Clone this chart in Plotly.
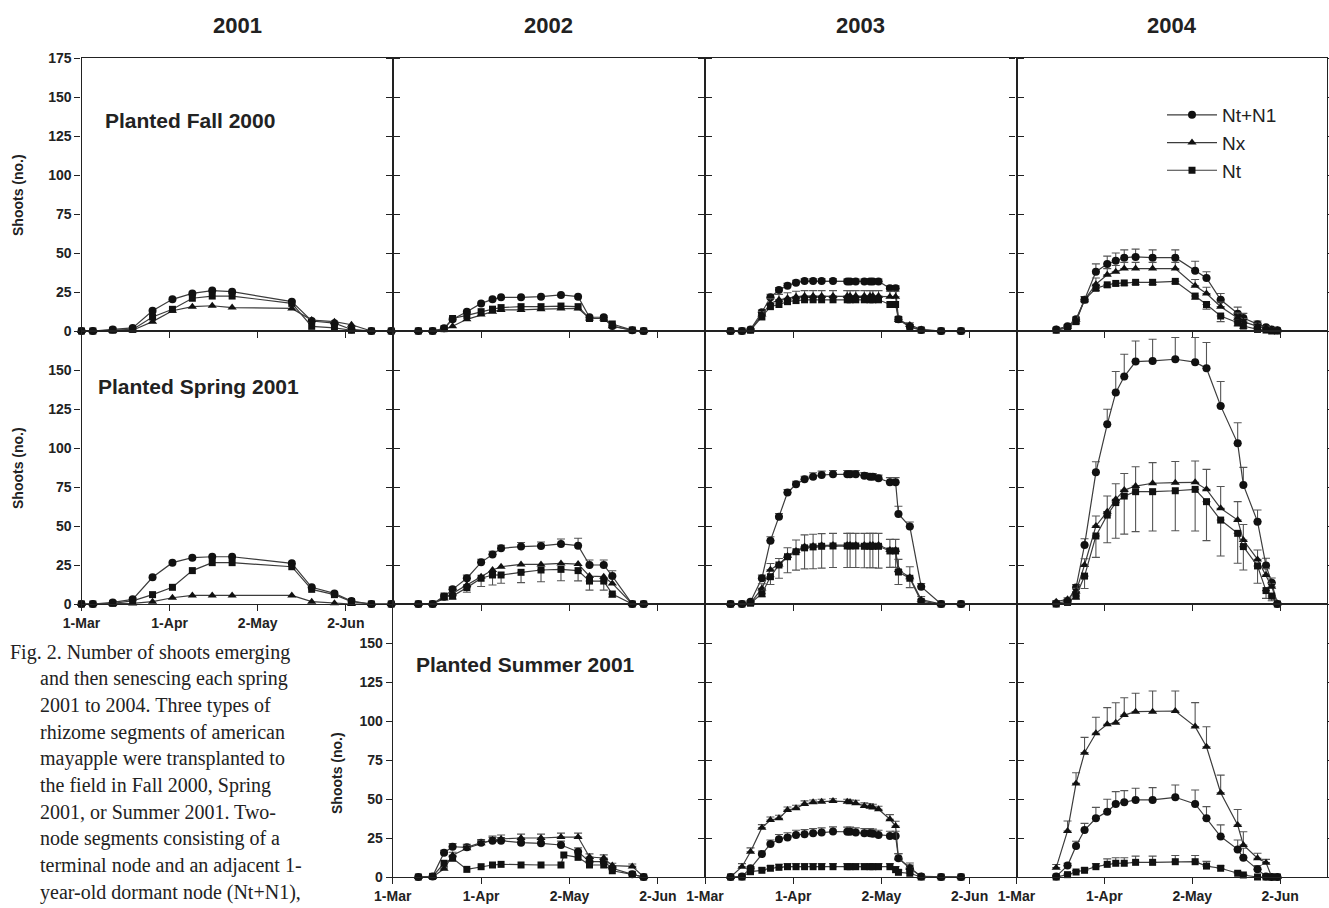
import plotly.graph_objects as go

W, H = 1329, 908

# ---------------- labels ----------------
YEARS = ["2001", "2002", "2003", "2004"]
PLANTINGS = ["Planted Fall 2000", "Planted Spring 2001", "Planted Summer 2001"]
SERIES = ["Nt+N1", "Nx", "Nt"]
X_TICK_DAYS = [0, 31, 62, 93]          # days after 1 March
X_TICK_LABELS = ["1-Mar", "1-Apr", "2-May", "2-Jun"]
Y_TICKS = [0, 25, 50, 75, 100, 125, 150, 175]
Y_TITLE = "Shoots (no.)"
CAPTION = [
    "Fig. 2. Number of shoots emerging",
    "and then senescing each spring",
    "2001 to 2004. Three types of",
    "rhizome segments of american",
    "mayapple were transplanted to",
    "the field in Fall 2000, Spring",
    "2001, or Summer 2001. Two-",
    "node segments consisting of a",
    "terminal node and an adjacent 1-",
    "year-old dormant node (Nt+N1),",
]

# ---------------- sampling dates (days after 1 March) ----------------
DAYS_2001 = [0, 4, 11, 18, 25, 32, 39, 46, 53, 74, 81, 89, 95, 102, 109]
DAYS_2002 = [9, 14, 18, 21, 26, 31, 35, 38, 45, 52, 59, 65, 69, 74, 77, 84, 88]
DAYS_2002_SUMMER_NT = [9, 14, 18, 21, 26, 31, 35, 38, 45, 52, 59, 60, 65, 69, 74, 77, 84, 88]
DAYS_2003 = [9, 13, 16, 20, 23, 26, 29, 32, 35, 38, 41, 45, 50, 51, 53, 56, 58, 59, 61, 65,
             67, 68, 72, 76, 83, 90]
DAYS_2004 = [14, 18, 21, 24, 28, 32, 35, 38, 42, 48, 56, 63, 67, 72, 78, 80, 85, 88, 90, 92]

# ---------------- Planted Fall 2000 ----------------
FALL_2001_NTN1 = [0, 0, 1, 2, 13, 20.3, 24.1, 25.9, 25.2, 18.8, 6.4, 5, 1, 0, 0]
FALL_2001_NX = [0, 0, 0, 0.5, 6, 13, 15.6, 16.2, 15, 14.5, 7, 6, 4, 0, 0]
FALL_2001_NT = [0, 0, 0.5, 1, 9, 13.9, 21, 22.4, 22.4, 17.7, 3, 2, 0.5, 0, 0]

FALL_2002_NTN1 = [0, 0, 1.7, 7.5, 12.4, 17.7, 20.3, 21.6, 21.6, 22, 23.1, 22, 8.8, 8.8, 3.2, 0.5, 0]
FALL_2002_NX = [0, 0, 1, 3, 7.5, 10.5, 12.4, 13.5, 13.5, 14, 14.5, 14.5, 8, 8, 3, 0.5, 0]
FALL_2002_NT = [0, 0, 1.5, 8, 10, 12.4, 14, 15, 15.6, 15.6, 16, 15.6, 8, 8, 4.5, 0.6, 0]

FALL_2003_NTN1 = [0, 0, 1, 12, 21.6, 26.3, 29, 31, 32, 32, 32, 32, 31.8, 31.8, 31.8, 31.8, 31.8,
                  31.8, 31.8, 27.4, 27.4, 7.5, 3, 0.6, 0, 0]
FALL_2003_NTN1_ERR = [0, 0, 0.5, 1.5, 2, 1.5, 1.5, 1.5, 1.5, 1.5, 1.5, 1.5, 1.5, 1.5, 1.5, 1.5, 1.5,
                      1.5, 1.5, 1.5, 1.5, 1.5, 1, 0.5, 0, 0]
FALL_2003_NX = [0, 0, 0.5, 10.5, 17.7, 20, 21, 22, 22.4, 22.4, 22.4, 22.4, 22.4, 22.4, 22.4, 22.4,
                22.4, 22.4, 22.4, 22, 22, 7, 3.8, 1, 0, 0]
FALL_2003_NX_ERR = [0, 0, 0.5, 2, 3, 3.5, 3.5, 3.5, 3.5, 3.5, 3.5, 3.5, 3.5, 3.5, 3.5, 3.5, 3.5,
                    3.5, 3.5, 3.5, 3.5, 2, 1.5, 0.5, 0, 0]
FALL_2003_NT = [0, 0, 0.5, 9, 15.6, 17, 18.8, 19.5, 20, 20, 20, 20, 20, 20, 20, 20, 20, 20, 20,
                17, 17, 7.5, 2.4, 0.6, 0, 0]

FALL_2004_NTN1 = [1, 3, 7.5, 20, 38, 43, 45, 47, 47.5, 47, 47, 38.7, 34, 20, 11, 8.3, 4.4, 2.4, 1, 0.5]
FALL_2004_NTN1_ERR = [0.5, 1, 1.5, 2, 5, 5, 5, 5, 5, 5, 5, 6, 4, 4, 4.3, 3, 2, 1, 0.5, 0.5]
FALL_2004_NX = [1, 2.5, 7, 20, 30, 36, 38, 40, 40, 40, 40, 29, 24, 15.6, 8.5, 6, 3, 2, 1, 0.5]
FALL_2004_NX_ERR = [0.5, 1, 1, 2, 4, 4, 4, 4, 4, 4, 4, 4, 4, 3, 3, 2, 2, 1, 1, 0.5]
FALL_2004_NT = [0.5, 2, 6, 20, 27.4, 29.6, 30.5, 30.8, 31.2, 31.2, 31.8, 22.4, 17, 9.6, 5.3, 3.2,
                1, 0.6, 0, 0]
FALL_2004_NT_ERR = [0, 0.5, 1, 1.5, 1.5, 1.5, 1.5, 1.5, 1.5, 1.5, 1.5, 2, 3, 3.6, 2, 1.5, 1, 0.5, 0, 0]

# ---------------- Planted Spring 2001 ----------------
SPRING_2001_NTN1 = [0, 0, 1, 3, 17.1, 26.5, 29.7, 30.3, 30.3, 26.1, 10.7, 6.8, 1.9, 0, 0]
SPRING_2001_NX = [0, 0, 0, 0.4, 1.5, 4, 5.5, 5.5, 5.5, 5.5, 1.5, 0.5, 0, 0, 0]
SPRING_2001_NT = [0, 0, 0.4, 2, 6, 10.7, 21.4, 26.5, 26.5, 23.9, 9.4, 6, 1.5, 0, 0]

SPRING_2002_NTN1 = [0, 0, 4.7, 9.4, 16.5, 26.7, 31.8, 35.7, 36.8, 37.2, 38.5, 37.4, 25, 25, 17.9, 0, 0]
SPRING_2002_NTN1_ERR = [0, 0, 1, 1.5, 2, 2, 2, 2, 2.6, 2.5, 3.2, 4.7, 3.2, 3.2, 3.4, 0, 0]
SPRING_2002_NX = [0, 0, 3.6, 6.8, 12.2, 17.5, 21.8, 23.9, 25.4, 25.4, 26, 25.6, 17.9, 17.5, 13.2, 0, 0]
SPRING_2002_NT = [0, 0, 5.1, 5.1, 10.5, 16.5, 18.6, 18.6, 20.3, 21.8, 22.2, 21.4, 14.7, 14.7, 6.4, 0, 0]
SPRING_2002_NT_ERR = [0, 0, 1, 2, 3, 5.3, 6.4, 5.3, 6.6, 7.5, 7.3, 6.6, 5.8, 5.8, 2, 0, 0]

SPRING_2003_NTN1 = [0, 0, 1.5, 16.5, 40.6, 56, 71.4, 76.7, 79.9, 81.6, 82.7, 83.1, 83.1, 83.1, 83.1,
                    82.2, 81.6, 81.6, 80.6, 78, 78, 57.7, 49.6, 11.1, 0, 0]
SPRING_2003_NTN1_ERR = [0, 0, 0.5, 2, 2.5, 2, 2, 2, 2, 2.5, 2.5, 2.5, 2.5, 2.5, 2.5, 2, 2, 2, 2, 3,
                        3, 5, 3, 2, 0, 0]
SPRING_2003_NX = [0, 0, 0.5, 10, 22, 25.4, 30.8, 34, 36.8, 37.2, 37.6, 37.8, 37.8, 37.8, 37.8, 37.8,
                  37.8, 37.8, 37.8, 34.6, 34.6, 21.8, 17.1, 2.8, 0, 0]
SPRING_2003_NX_ERR = [0, 0, 0.5, 3, 4, 3.8, 5.3, 7, 7.5, 7.5, 7.5, 7.5, 7.5, 7.5, 7.5, 7.5, 7.5,
                      7.5, 7.5, 6.8, 6.8, 6.8, 6.8, 2, 0, 0]
SPRING_2003_NT = [0, 0, 0.5, 6.6, 17.5, 25, 30.3, 33.5, 36, 36.6, 37, 37.2, 37.2, 37.2, 37.2, 37,
                  37, 37, 37, 34, 34, 20.5, 16.5, 1.7, 0, 0]
SPRING_2003_NT_ERR = [0, 0, 0, 2, 5, 8.5, 10.3, 11.8, 13.5, 14, 14, 13.8, 13.8, 13.8, 13.8, 13.8,
                      13.8, 13.8, 14, 10.5, 10.5, 8, 6, 1, 0, 0]

SPRING_2004_NTN1 = [0.4, 1.9, 10.5, 37.8, 84.4, 115.2, 135.5, 145.8, 155.4, 155.8, 156.9, 155,
                    151.1, 127, 103, 76.3, 52.8, 24.6, 13.7, 0]
SPRING_2004_NTN1_ERR = [0.5, 1, 2, 4, 6.8, 9.6, 13.5, 14.3, 13.2, 13.9, 13.9, 15.8, 16.5, 15.6,
                        13.2, 11.3, 7.5, 4.7, 3, 0.5]
SPRING_2004_NX = [1.5, 3, 8, 25, 50, 59.2, 67.1, 73, 75.6, 77.4, 77.8, 78, 73.5, 61.3, 53.8, 41,
                  28.6, 18.6, 11.1, 0.5]
SPRING_2004_NX_ERR = [0.5, 1, 2, 4, 6.4, 10, 10, 10.7, 12.4, 13.2, 13.5, 13.7, 12.8, 14, 11.8, 10,
                      6, 4, 2, 0.5]
SPRING_2004_NT = [0, 1, 5.1, 17.9, 43.6, 57, 65, 69.2, 72, 72, 72.6, 73.5, 65.6, 53.8, 45.3, 36.8,
                  24.4, 8.6, 5.1, 0]
SPRING_2004_NT_ERR = [0, 1, 2, 8, 13.7, 17.7, 22.9, 24.4, 25.6, 25.2, 25.6, 26.7, 25, 23, 19.2, 15,
                      11.1, 5, 3, 0]

# ---------------- Planted Summer 2001 ----------------
SUMMER_2002_NTN1 = [0, 0.4, 15.6, 19.4, 19, 22, 23.3, 23.3, 22, 21.6, 20.5, 16.2, 9.8, 9.8, 5.6, 1.7, 0]
SUMMER_2002_NTN1_ERR = [0, 0, 1.5, 2, 2, 2, 2, 2, 2.5, 2.5, 2.5, 2.5, 2, 2, 1.5, 0.5, 0]
SUMMER_2002_NX = [0, 0, 5.3, 13.9, 18.4, 21.6, 23.7, 24.4, 25, 25, 25.6, 25.6, 12.8, 12.2, 7.3, 6.8, 0]
SUMMER_2002_NX_ERR = [0, 0, 1, 2, 2, 2, 2.5, 2.5, 2.5, 2.5, 2.5, 2.5, 2, 2, 1.5, 1.5, 0]
SUMMER_2002_NT = [0, 0.4, 8.8, 12, 4.9, 6.6, 7.7, 8.1, 7.7, 7.7, 7.7, 14.1, 12.6, 7.7, 7.7, 4, 1.7, 0]

SUMMER_2003_NTN1 = [0, 0.4, 5.6, 14.7, 21.2, 24.2, 25.4, 27, 27.4, 28, 28.5, 29.1, 29, 29, 28.5, 28,
                    28, 27.7, 27, 26.3, 26.3, 12, 5.6, 0.4, 0, 0]
SUMMER_2003_NTN1_ERR = [0, 0.5, 1, 2, 2.5, 3, 3, 3, 3, 3, 3, 3, 3, 3, 3, 3, 3, 3, 3, 3, 3, 3, 2,
                        0.5, 0, 0]
SUMMER_2003_NX = [0, 6.6, 16.2, 31.6, 36.5, 37.6, 42.9, 44, 46.8, 47.9, 48.3, 48.7, 48.3, 47.9,
                  47.2, 45.5, 45, 44.6, 43.4, 37, 32.7, 12, 6, 0.4, 0, 0]
SUMMER_2003_NX_ERR = [0, 2, 2.5, 2, 2, 2, 2, 2, 2, 1.5, 1.5, 1.5, 1.5, 1.5, 2, 2, 2, 2, 2, 3, 3, 3,
                      3, 0.5, 0, 0]
SUMMER_2003_NT = [0, 0, 3.4, 4.3, 5.6, 6.2, 6.6, 6.6, 6.6, 6.6, 6.6, 6.6, 6.6, 6.6, 6.6, 6.6, 6.6,
                  6.6, 6.6, 6.6, 4.7, 3, 2.4, 0, 0, 0]
SUMMER_2003_NT_ERR = [0, 0, 1, 1.5, 1.5, 2, 2, 2, 2, 2, 2, 2, 2, 2, 2, 2, 2, 2, 2, 2, 2, 1.5, 1, 0,
                      0, 0]

SUMMER_2004_NTN1 = [0.4, 7.3, 19.9, 30.1, 37.6, 41.9, 46.8, 47.9, 49.4, 49.4, 51.1, 46.8, 37.6, 25.9,
                    17.7, 12.4, 4.9, 0.4, 0, 0]
SUMMER_2004_NTN1_ERR = [0.5, 1.5, 3, 4.3, 7, 7.9, 7.9, 7.5, 7.5, 7.9, 7.9, 9, 7.5, 7.5, 6, 6, 2.5,
                        0.5, 0, 0]
SUMMER_2004_NX = [6, 29.5, 60, 79.7, 92.1, 97.9, 98.9, 103.8, 106, 106, 106.4, 96.4, 83.5, 54, 33.3,
                  20.5, 12, 9.2, 0, 0]
SUMMER_2004_NX_ERR = [2, 6.4, 6.8, 9.8, 10.3, 10.7, 12.8, 11.1, 11.8, 13.2, 12.8, 15.4, 12.8, 11.3,
                      10, 8.5, 3.2, 2.1, 0, 0]
SUMMER_2004_NT = [0, 1.5, 3.2, 4.3, 6.6, 8.1, 8.8, 8.8, 9.4, 9.4, 9.8, 9.8, 7, 5.6, 2.4, 1.3, 0, 0,
                  0, 0]
SUMMER_2004_NT_ERR = [0, 0.5, 1, 1.5, 2, 3.5, 3.5, 3.5, 4, 4, 4, 4, 3, 1.5, 1, 0.5, 0, 0, 0, 0]

# (row, col) -> list of (series, days, values, err_up, err_down)
PANELS = {
    (1, 1): [("Nt+N1", DAYS_2001, FALL_2001_NTN1, None, None),
             ("Nx", DAYS_2001, FALL_2001_NX, None, None),
             ("Nt", DAYS_2001, FALL_2001_NT, None, None)],
    (1, 2): [("Nt+N1", DAYS_2002, FALL_2002_NTN1, None, None),
             ("Nx", DAYS_2002, FALL_2002_NX, None, None),
             ("Nt", DAYS_2002, FALL_2002_NT, None, None)],
    (1, 3): [("Nt+N1", DAYS_2003, FALL_2003_NTN1, FALL_2003_NTN1_ERR, None),
             ("Nx", DAYS_2003, FALL_2003_NX, FALL_2003_NX_ERR, None),
             ("Nt", DAYS_2003, FALL_2003_NT, None, None)],
    (1, 4): [("Nt+N1", DAYS_2004, FALL_2004_NTN1, FALL_2004_NTN1_ERR, None),
             ("Nx", DAYS_2004, FALL_2004_NX, FALL_2004_NX_ERR, None),
             ("Nt", DAYS_2004, FALL_2004_NT, None, FALL_2004_NT_ERR)],
    (2, 1): [("Nt+N1", DAYS_2001, SPRING_2001_NTN1, None, None),
             ("Nx", DAYS_2001, SPRING_2001_NX, None, None),
             ("Nt", DAYS_2001, SPRING_2001_NT, None, None)],
    (2, 2): [("Nt+N1", DAYS_2002, SPRING_2002_NTN1, SPRING_2002_NTN1_ERR, None),
             ("Nx", DAYS_2002, SPRING_2002_NX, None, None),
             ("Nt", DAYS_2002, SPRING_2002_NT, None, SPRING_2002_NT_ERR)],
    (2, 3): [("Nt+N1", DAYS_2003, SPRING_2003_NTN1, SPRING_2003_NTN1_ERR, None),
             ("Nx", DAYS_2003, SPRING_2003_NX, SPRING_2003_NX_ERR, None),
             ("Nt", DAYS_2003, SPRING_2003_NT, None, SPRING_2003_NT_ERR)],
    (2, 4): [("Nt+N1", DAYS_2004, SPRING_2004_NTN1, SPRING_2004_NTN1_ERR, None),
             ("Nx", DAYS_2004, SPRING_2004_NX, SPRING_2004_NX_ERR, None),
             ("Nt", DAYS_2004, SPRING_2004_NT, None, SPRING_2004_NT_ERR)],
    (3, 2): [("Nt+N1", DAYS_2002, SUMMER_2002_NTN1, SUMMER_2002_NTN1_ERR, None),
             ("Nx", DAYS_2002, SUMMER_2002_NX, SUMMER_2002_NX_ERR, None),
             ("Nt", DAYS_2002_SUMMER_NT, SUMMER_2002_NT, None, None)],
    (3, 3): [("Nt+N1", DAYS_2003, SUMMER_2003_NTN1, SUMMER_2003_NTN1_ERR, None),
             ("Nx", DAYS_2003, SUMMER_2003_NX, SUMMER_2003_NX_ERR, None),
             ("Nt", DAYS_2003, SUMMER_2003_NT, SUMMER_2003_NT_ERR, None)],
    (3, 4): [("Nt+N1", DAYS_2004, SUMMER_2004_NTN1, SUMMER_2004_NTN1_ERR, None),
             ("Nx", DAYS_2004, SUMMER_2004_NX, SUMMER_2004_NX_ERR, None),
             ("Nt", DAYS_2004, SUMMER_2004_NT, SUMMER_2004_NT_ERR, None)],
}

# ---------------- styling / geometry ----------------
COL_PX = [(81.5, 392.7), (392.7, 705), (705, 1016.5), (1016.5, 1327)]
ROW_PX = [(58, 331), (331, 604), (604, 877)]
INK = "#222222"
LINE_C = "#3c3c3c"
ERR_C = "#555555"
SANS = "Liberation Sans, Arial, sans-serif"
SERIF = "Liberation Serif, Times New Roman, serif"
SYMBOL = {"Nt+N1": ("circle", 8), "Nx": ("triangle-up", 8), "Nt": ("square", 7)}

fig = go.Figure()
layout = {}
legend_done = set()

for idx, ((r, c), series_list) in enumerate(sorted(PANELS.items()), start=1):
    xs = "" if idx == 1 else str(idx)
    x0, x1 = COL_PX[c - 1]
    y0, y1 = ROW_PX[r - 1]
    bottom_labels = (r == 2 and c == 1) or r == 3
    left_labels = (c == 1) or (r == 3 and c == 2)
    ytext = [str(v) for v in Y_TICKS]
    if r > 1:
        ytext[-1] = ""
    layout["xaxis" + xs] = dict(
        domain=[x0 / W, x1 / W], anchor="y" + xs, range=[0, 109.5], automargin=False,
        tickmode="array", tickvals=X_TICK_DAYS, ticktext=X_TICK_LABELS,
        showticklabels=bottom_labels, ticks="outside", ticklen=6, tickwidth=1.3,
        tickcolor=INK, showline=True, linecolor=INK, linewidth=1.1, mirror=True,
        showgrid=False, zeroline=False,
        tickfont=dict(family=SANS, size=14, color=INK, weight="bold"),
    )
    layout["yaxis" + xs] = dict(
        domain=[1 - y1 / H, 1 - y0 / H], anchor="x" + xs, range=[0, 175], automargin=False,
        tickmode="array", tickvals=Y_TICKS, ticktext=ytext,
        showticklabels=left_labels, ticks="outside", ticklen=6, tickwidth=1.3,
        tickcolor=INK, showline=True, linecolor=INK, linewidth=1.1, mirror="ticks",
        showgrid=False, zeroline=False,
        tickfont=dict(family=SANS, size=14, color=INK, weight="bold"),
    )
    for name, days, vals, eup, edown in series_list:
        sym, size = SYMBOL[name]
        err = None
        if eup is not None or edown is not None:
            zeros = [0] * len(vals)
            err = dict(type="data", symmetric=False,
                       array=eup if eup is not None else zeros,
                       arrayminus=edown if edown is not None else zeros,
                       color=ERR_C, thickness=1.1, width=4)
        show = name not in legend_done
        legend_done.add(name)
        fig.add_trace(go.Scatter(
            x=days, y=vals, name=name, legendgroup=name, showlegend=show,
            mode="lines+markers", xaxis="x" + xs, yaxis="y" + xs,
            line=dict(color=LINE_C, width=1.2),
            marker=dict(symbol=sym, size=size, color="#111111", line=dict(width=0)),
            error_y=err, cliponaxis=False,
        ))

annotations = []
# year titles
for i, yr in enumerate(YEARS):
    cx = (COL_PX[i][0] + COL_PX[i][1]) / 2
    annotations.append(dict(text=yr, x=cx / W, y=1 - 25 / H, xref="paper", yref="paper",
                            showarrow=False, xanchor="center", yanchor="middle",
                            font=dict(family=SANS, size=22, color=INK, weight="bold")))
# planting labels
for text, px, py in [(PLANTINGS[0], 103, 120), (PLANTINGS[1], 96, 386), (PLANTINGS[2], 414, 664)]:
    annotations.append(dict(text=text, x=px / W, y=1 - py / H, xref="paper", yref="paper",
                            showarrow=False, xanchor="left", yanchor="middle",
                            font=dict(family=SANS, size=21, color=INK, weight="bold")))
# y-axis titles
for px, py in [(18, 195), (18, 468), (337, 773)]:
    annotations.append(dict(text=Y_TITLE, x=px / W, y=1 - py / H, xref="paper", yref="paper",
                            showarrow=False, textangle=-90, xanchor="center", yanchor="middle",
                            font=dict(family=SANS, size=14, color=INK, weight="bold")))
# caption
for i, line in enumerate(CAPTION):
    px = 8 if i == 0 else 38
    py = 652 + i * 26.7
    annotations.append(dict(text=line, x=px / W, y=1 - py / H, xref="paper", yref="paper",
                            showarrow=False, xanchor="left", yanchor="middle",
                            font=dict(family=SERIF, size=20, color=INK)))

fig.update_layout(
    width=W, height=H, autosize=False,
    margin=dict(l=0, r=0, t=0, b=0, autoexpand=False),
    paper_bgcolor="white", plot_bgcolor="white",
    showlegend=True,
    legend=dict(x=1162 / W, y=1 - 96 / H, xanchor="left", yanchor="top",
                bgcolor="rgba(0,0,0,0)", borderwidth=0, tracegroupgap=0,
                itemwidth=50,
                font=dict(family=SANS, size=19, color=INK)),
    annotations=annotations,
    **layout,
)

fig.write_html(
    "out.html",
    config={"displayModeBar": False},
    post_script="document.body.style.margin='0';document.body.style.overflow='hidden';",
)
